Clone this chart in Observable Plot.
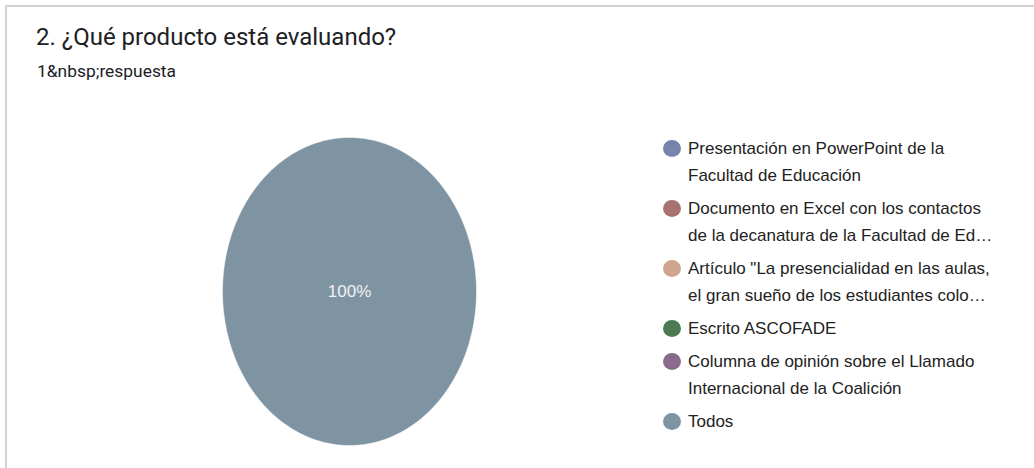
<!DOCTYPE html>
<html>
<head>
<meta charset="utf-8">
<script src="https://cdn.jsdelivr.net/npm/d3@7"></script>
<script src="https://cdn.jsdelivr.net/npm/@observablehq/plot@0.6"></script>
<style>
  html, body { margin: 0; padding: 0; background: #fff; }
  #page { position: relative; width: 1034px; height: 468px; overflow: hidden; background: #fff; }
  #frame { position: absolute; left: 5px; top: 5px; right: 0; bottom: 0;
           border-left: 2px solid #d3d3d3; border-top: 2px solid #d3d3d3; }
  #title { position: absolute; left: 36px; top: 25px; font-family: Roboto, sans-serif;
           font-size: 24px; line-height: 24px; color: #202124; white-space: nowrap; }
  #subtitle { position: absolute; left: 37px; top: 63px; font-family: Roboto, sans-serif;
              font-size: 17.4px; line-height: 17px; color: #202124; white-space: nowrap; }
  #chart { position: absolute; left: 0; top: 120px; }
  #legend { position: absolute; left: 663px; top: 135px; width: 360px;
            font-family: "Liberation Sans", Arial, sans-serif; font-size: 17px; color: #222; }
  .item { display: flex; align-items: flex-start; margin-bottom: 6px; }
  .sw { flex: 0 0 auto; width: 18px; height: 17px; border-radius: 50%; margin-top: 5px; margin-right: 7px; }
  .lab { flex: 0 0 auto; line-height: 27px; width: 312px; }
</style>
</head>
<body>
<div id="page">
  <div id="frame"></div>
  <div id="title"></div>
  <div id="subtitle"></div>
  <div id="chart"></div>
  <div id="legend"></div>
</div>
<script>
const titleText = "2. ¿Qué producto está evaluando?";
const subtitleText = "1&nbsp;respuesta";
const categories = [
  "Presentación en PowerPoint de la Facultad de Educación",
  "Documento en Excel con los contactos de la decanatura de la Facultad de Ed…",
  "Artículo \"La presencialidad en las aulas, el gran sueño de los estudiantes colo…",
  "Escrito ASCOFADE",
  "Columna de opinión sobre el Llamado Internacional de la Coalición",
  "Todos"
];
const counts = [0, 0, 0, 0, 0, 1];
const colors = ["#7683ab", "#a87271", "#cfa68d", "#4b7a52", "#8a6a8d", "#7e94a3"];

document.getElementById("title").textContent = titleText;
document.getElementById("subtitle").textContent = subtitleText;

// Build slice outlines (angles from 12 o'clock, clockwise) from the counts
const total = d3.sum(counts);
const slicePoints = [];
const labels = [];
let cum = 0;
categories.forEach((cat, i) => {
  const v = counts[i];
  if (v <= 0) return;
  const a0 = cum / total * 2 * Math.PI;
  const a1 = (cum + v) / total * 2 * Math.PI;
  cum += v;
  const full = (a1 - a0) >= 2 * Math.PI - 1e-9;
  const n = Math.max(2, Math.ceil((a1 - a0) / (2 * Math.PI) * 240));
  if (!full) slicePoints.push({cat, x: 0, y: 0});
  for (let k = 0; k <= n; k++) {
    const a = a0 + (a1 - a0) * k / n;
    slicePoints.push({cat, x: Math.sin(a), y: Math.cos(a)});
  }
  if (!full) slicePoints.push({cat, x: 0, y: 0});
  const mid = (a0 + a1) / 2;
  const r = full ? 0 : 0.6;
  labels.push({cat, x: r * Math.sin(mid), y: r * Math.cos(mid), text: d3.format(".0%")(v / total)});
});

const plot = Plot.plot({
  width: 640,
  height: 348,
  marginLeft: 222,
  marginRight: 164,
  marginTop: 17,
  marginBottom: 23,
  x: {domain: [-1, 1], axis: null},
  y: {domain: [-1, 1], axis: null},
  color: {domain: categories, range: colors},
  style: {background: "transparent"},
  marks: [
    Plot.line(slicePoints, {x: "x", y: "y", z: "cat", fill: "cat", stroke: "white", strokeWidth: 0.5, curve: "linear"}),
    Plot.text(labels, {x: "x", y: "y", text: "text", fill: "#f2f2f2", fontSize: 17,
      fontFamily: "'Liberation Sans', Arial, sans-serif", textAnchor: "middle", lineAnchor: "middle"})
  ]
});
document.getElementById("chart").appendChild(plot);

const color = plot.scale("color");
const legend = document.getElementById("legend");
const colorOf = new Map(color.domain.map((d, i) => [d, color.range[i]]));
categories.forEach(cat => {
  const item = document.createElement("div");
  item.className = "item";
  const sw = document.createElement("span");
  sw.className = "sw";
  sw.style.background = colorOf.get(cat);
  const lab = document.createElement("span");
  lab.className = "lab";
  lab.textContent = cat;
  item.appendChild(sw);
  item.appendChild(lab);
  legend.appendChild(item);
});
</script>
</body>
</html>
